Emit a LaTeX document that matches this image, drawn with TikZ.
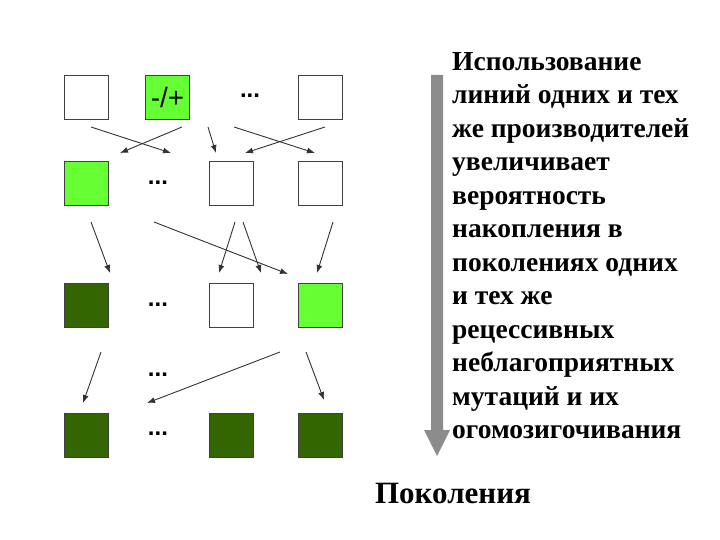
\documentclass[tikz,border=0pt]{standalone}
\usepackage{fontspec}
\usetikzlibrary{arrows.meta}
\setmainfont{Liberation Serif}
\newfontfamily\sansf{Liberation Sans}
\begin{document}
\begin{tikzpicture}[x=1pt,y=-1pt,
  sq/.style={draw=black!75,line width=1pt,minimum size=44pt,inner sep=0pt,anchor=north west},
  wh/.style={sq,fill=white},
  dots/.style={font=\sansf\bfseries\fontsize{24}{24}\selectfont},
  arr/.style={-{Latex[length=8pt,width=6pt]},line width=0.9pt,draw=black!80},
  lbl/.style={font=\bfseries\fontsize{27.5}{33.5}\selectfont,align=left,anchor=north west,inner sep=0pt}]
\useasboundingbox (0,0) rectangle (720,540);
\definecolor{lgr}{RGB}{102,255,51}
\definecolor{dgr}{RGB}{51,102,0}
% row 1
\node[wh] (a1) at (64,75) {};
\node[sq,fill=lgr,font=\sansf\fontsize{28}{28}\selectfont] (a2) at (145,75) {-/+};
\node[dots] (a3) at (250,96) {...};
\node[wh] (a4) at (298,75) {};
% row 2
\node[sq,fill=lgr] (b1) at (64,161) {};
\node[dots] (b2) at (158,183) {...};
\node[wh] (b3) at (209,161) {};
\node[wh] (b4) at (298,161) {};
% row 3
\node[sq,fill=dgr] (c1) at (64,283) {};
\node[dots] (c2) at (158,305) {...};
\node[wh] (c3) at (209,283) {};
\node[sq,fill=lgr] (c4) at (298,283) {};
% between
\node[dots] (m) at (158,375) {...};
% row 4
\node[sq,fill=dgr] (d1) at (64,413) {};
\node[dots] (d2) at (158,434) {...};
\node[sq,fill=dgr] (d3) at (209,413) {};
\node[sq,fill=dgr] (d4) at (298,413) {};
% arrow endpoints
\foreach \n/\x/\y in {p1/91/127,q1/171/153,p2/182/127,q2/120/153,p3/208/127,q3/216/153,p4/234/127,q4/315/153,p5/325/127,q5/245/153,
 p6/91/222,q6/110/273,p7/154/222,q7/288/274,p8/235/222,q8/219/273,p9/243/222,q9/261/273,p10/333/222,q10/317/273,
 p11/101/352,q11/83/403,p12/280/352,q12/147/403,p13/306/352,q13/324/400}
  \coordinate (\n) at (\x,\y);
\foreach \i in {1,...,13} \draw[arr] (p\i) -- (q\i);
% big arrow
\coordinate (gs) at (437,75);
\coordinate (ge) at (437,456);
\fill[gray!90] (431,75) -- (443,75) -- (443,430) -- (450,430) -- (ge) -- (424,430) -- (431,430) -- cycle;
\node[lbl] (t) at (452,52) {Использование\\линий одних и тех\\же производителей\\увеличивает\\вероятность\\накопления в\\поколениях одних\\и тех же\\рецессивных\\неблагоприятных\\мутаций и их\\огомозигочивания};
\node[font=\bfseries\fontsize{31}{31}\selectfont] (p) at (453,493) {Поколения};
\end{tikzpicture}
\end{document}
